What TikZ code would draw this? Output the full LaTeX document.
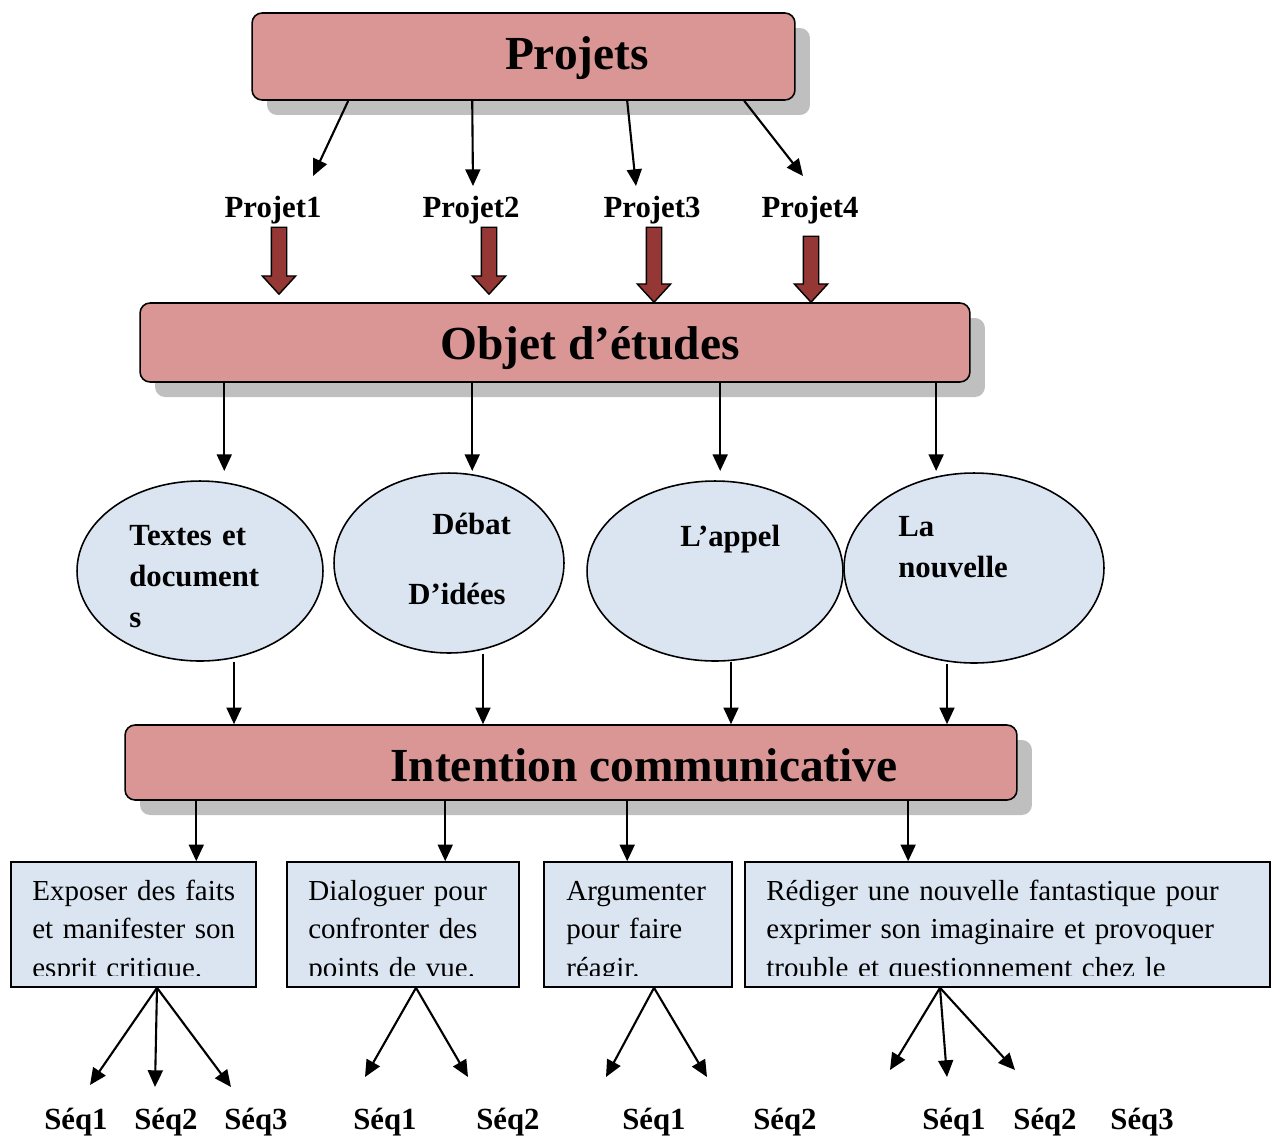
\documentclass[tikz,border=0pt]{standalone}
\usepackage{fontspec}
\setmainfont{Liberation Serif}
\usetikzlibrary{
        arrows.meta,
        positioning,
        shadows,
        shapes.arrows,
        shapes.geometric
    }
\definecolor{titlepink}{HTML}{D99694}
\definecolor{blockred}{HTML}{953735}
\definecolor{paleblue}{HTML}{DBE5F1}
\definecolor{shadowgray}{HTML}{BFBFBF}
\tikzset{>={Triangle[length=9.5pt,width=8.5pt]}}
\tikzset{
    titlebox/.style={draw,rounded corners=0.2cm,fill=titlepink,line width=0.9pt,
        drop shadow={shadow xshift=0.3cm,shadow yshift=-0.3cm,fill=shadowgray,opacity=1}},
    titletext/.style={font=\bfseries\fontsize{27}{32}\selectfont,inner sep=0pt},
    projlabel/.style={font=\bfseries\fontsize{17.5}{21}\selectfont,inner sep=0pt},
    redarrow/.style={single arrow,draw,fill=blockred,line width=0.8pt,shape border rotate=270,
        inner sep=0.14cm,minimum width=0.64cm,single arrow head extend=0.18cm,single arrow tip angle=85},
    bubble/.style={ellipse,draw,fill=paleblue,line width=0.9pt,inner sep=0pt},
    bubbletext/.style={font=\bfseries\fontsize{17.5}{23.5}\selectfont,anchor=base west,
        inner sep=0pt,text width=4cm,align=left},
    taskbox/.style={draw,fill=paleblue,line width=0.9pt,minimum height=2.5cm},
    tasktext/.style={font=\fontsize{16.5}{22}\selectfont,anchor=base west,
        inner sep=0pt,text width=10cm,align=left},
    conn/.style={->,line width=1.2pt}
}
\begin{document}
\begin{tikzpicture}[x=0.02cm,y=-0.02cm]
    \useasboundingbox (0,0) rectangle (1277,1137);
    % les trois bandeaux
    \node[titlebox,minimum width=10.86cm,minimum height=1.74cm] (projets) at (523.5,56.5) {};
    \node[titletext] (projetsT) at (577,58) {Projets};
    \node[titlebox,minimum width=16.6cm,minimum height=1.58cm] (objet) at (555,342.5) {};
    \node[titletext] (objetT) at (590,348) {Objet d’études};
    \node[titlebox,minimum width=17.84cm,minimum height=1.5cm] (intention) at (571,762.5) {};
    \node[titletext] (intentionT) at (644,765) {Intention communicative};

    % projets
    \node[projlabel] (p1) at (273,210) {Projet1};
    \node[projlabel] (p2) at (471,210) {Projet2};
    \node[projlabel] (p3) at (652,210) {Projet3};
    \node[projlabel] (p4) at (810,210) {Projet4};
    \coordinate (p1tip) at (313,176);
    \coordinate (p2tip) at (473,186);
    \coordinate (p3tip) at (636,186);
    \coordinate (p4tip) at (803,176);
    \path[conn]
        ([xshift=1.94cm]projets.south west) edge (p1tip)
        ([xshift=4.42cm]projets.south west) edge (p2tip)
        ([xshift=7.52cm]projets.south west) edge (p3tip)
        ([xshift=9.86cm]projets.south west) edge (p4tip);
    \node[redarrow,minimum height=1.34cm] (a1) at (279,256.5) {};
    \node[redarrow,minimum height=1.34cm] (a2) at (489,256.5) {};
    \node[redarrow,minimum height=1.5cm] (a3) at (654,260.5) {};
    \node[redarrow,minimum height=1.32cm] (a4) at (811,265) {};

    % objets d'etudes
    \node[bubble,minimum width=4.92cm,minimum height=3.6cm] (e1) at (200,571) {};
    \node[bubble,minimum width=4.6cm,minimum height=3.6cm] (e2) at (449,563) {};
    \node[bubble,minimum width=5.12cm,minimum height=3.6cm] (e3) at (715,571) {};
    \node[bubble,minimum width=5.2cm,minimum height=3.8cm] (e4) at (974,568) {};
    \node[bubbletext] (e1T) at (129,545) {Textes et\\document\\s};
    \node[bubbletext] (e2T) at (432,534) {Débat};
    \node[bubbletext] (e2U) at (408,604) {D’idées};
    \node[bubbletext] (e3T) at (680,546) {L’appel};
    \node[bubbletext] (e4T) at (898,536) {La\\nouvelle};
    \path[conn]
        ([xshift=1.7cm]objet.south west) edge ([xshift=1.7cm]objet.south west |- 0,471)
        ([xshift=6.66cm]objet.south west) edge ([xshift=6.66cm]objet.south west |- 0,471)
        ([xshift=11.62cm]objet.south west) edge ([xshift=11.62cm]objet.south west |- 0,471)
        ([xshift=15.94cm]objet.south west) edge ([xshift=15.94cm]objet.south west |- 0,471);
    \path[conn]
        ([xshift=0.68cm]e1.south) edge ([xshift=0.68cm]e1.south |- intention.north)
        ([xshift=0.68cm]e2.south) edge ([xshift=0.68cm]e2.south |- intention.north)
        ([xshift=0.32cm]e3.south) edge ([xshift=0.32cm]e3.south |- intention.north)
        ([xshift=-0.54cm]e4.south) edge ([xshift=-0.54cm]e4.south |- intention.north);

    % intentions
    \node[taskbox,minimum width=4.9cm] (t1) at (133.5,924.5) {};
    \node[taskbox,minimum width=4.64cm] (t2) at (403,924.5) {};
    \node[taskbox,minimum width=3.76cm] (t3) at (638,924.5) {};
    \node[taskbox,minimum width=10.5cm] (t4) at (1007.5,924.5) {};
    \begin{scope}
        \clip (0,862) rectangle (1277,975);
        \node[tasktext] (t1T) at (32,900) {Exposer des faits\\et manifester son\\esprit critique.};
        \node[tasktext] (t2T) at (308,900) {Dialoguer pour\\confronter des\\points de vue.};
        \node[tasktext] (t3T) at (566,900) {Argumenter\\pour faire\\réagir.};
        \node[tasktext] (t4T) at (766,900) {Rédiger une nouvelle fantastique pour\\exprimer son imaginaire et provoquer\\trouble et questionnement chez le};
    \end{scope}
    \path[conn]
        ([xshift=1.44cm]intention.south west) edge ([xshift=1.44cm]intention.south west |- t1.north)
        ([xshift=6.42cm]intention.south west) edge ([xshift=6.42cm]intention.south west |- t2.north)
        ([xshift=10.06cm]intention.south west) edge ([xshift=10.06cm]intention.south west |- t3.north)
        ([xshift=15.68cm]intention.south west) edge ([xshift=15.68cm]intention.south west |- t4.north);

    % sequences
    \coordinate (s11) at (90,1085);
    \coordinate (s12) at (155,1087);
    \coordinate (s13) at (231,1087);
    \coordinate (s21) at (365,1077);
    \coordinate (s22) at (468,1077);
    \coordinate (s31) at (606,1077);
    \coordinate (s32) at (707,1077);
    \coordinate (s41) at (890,1070);
    \coordinate (s42) at (947,1077);
    \coordinate (s43) at (1015,1070);
    \path[conn]
        ([xshift=0.47cm]t1.south) edge (s11) ([xshift=0.47cm]t1.south) edge (s12)
        ([xshift=0.47cm]t1.south) edge (s13)
        ([xshift=0.26cm]t2.south) edge (s21) ([xshift=0.26cm]t2.south) edge (s22)
        ([xshift=0.32cm]t3.south) edge (s31) ([xshift=0.32cm]t3.south) edge (s32)
        ([xshift=-1.35cm]t4.south) edge (s41) ([xshift=-1.35cm]t4.south) edge (s42)
        ([xshift=-1.35cm]t4.south) edge (s43);
    \node[projlabel] (q11) at (76,1122) {Séq1};
    \node[projlabel] (q12) at (166,1122) {Séq2};
    \node[projlabel] (q13) at (256,1122) {Séq3};
    \node[projlabel] (q21) at (385,1122) {Séq1};
    \node[projlabel] (q22) at (508,1122) {Séq2};
    \node[projlabel] (q31) at (654,1122) {Séq1};
    \node[projlabel] (q32) at (785,1122) {Séq2};
    \node[projlabel] (q41) at (954,1122) {Séq1};
    \node[projlabel] (q42) at (1045,1122) {Séq2};
    \node[projlabel] (q43) at (1142,1122) {Séq3};
\end{tikzpicture}
\end{document}
